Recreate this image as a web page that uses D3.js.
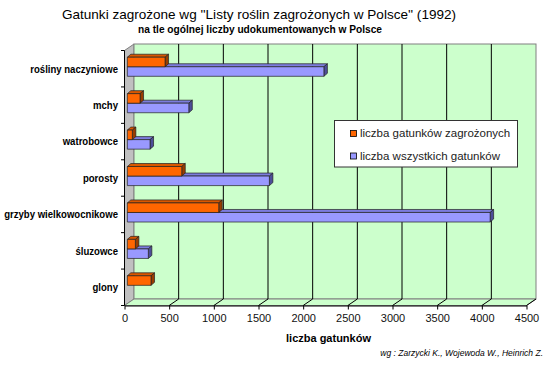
<!DOCTYPE html>
<html><head><meta charset="utf-8">
<script src="https://cdn.jsdelivr.net/npm/d3@7/dist/d3.min.js"></script>
<style>
body{margin:0;background:#fff;}
svg{display:block;font-family:"Liberation Sans",Arial,sans-serif;}
</style></head><body>
<svg id="c" width="550" height="370"></svg>
<script>
const categories = ["rośliny naczyniowe","mchy","watrobowce","porosty","grzyby wielkowocnikowe","śluzowce","glony"];
const threatened = [422,142,56,609,1023,90,265];
const total = [2200,688,254,1590,4061,235,null];
const xTicks = [0,500,1000,1500,2000,2500,3000,3500,4000,4500];
const seriesNames = ["liczba gatunków zagrożonych","liczba wszystkich gatunków"];
const titleText = "Gatunki zagrożone wg ''Listy roślin zagrożonych w Polsce'' (1992)";
const subtitleText = "na tle ogólnej liczby udokumentowanych w Polsce";
const xTitle = "liczba gatunków";
const sourceText = "wg : Zarzycki K., Wojewoda W., Heinrich Z.";

const svg = d3.select("#c");
const DX = 9.5, DY = -6.5;
const x = d3.scaleLinear().domain([0,4500]).range([124.5,526.5]);
const y = d3.scaleBand().domain(categories).range([50.5,305.5]);
const top0 = 50.5, bot0 = 305.5;

const col = {
  o:{front:"#FF6600", top:"#D95700", side:"#993D00"},
  p:{front:"#9999FF", top:"#7C7CDD", side:"#4D4D99"}
};

function fit(sel, w){ sel.each(function(){ this.setAttribute("textLength", w); this.setAttribute("lengthAdjust","spacingAndGlyphs"); }); }
function squeeze(sel, f){ sel.each(function(){ const l=this.getComputedTextLength(); this.setAttribute("textLength", l*f); this.setAttribute("lengthAdjust","spacingAndGlyphs"); }); }

// title
svg.append("text").attr("x",259).attr("y",19).attr("text-anchor","middle")
  .attr("font-size",13.5).attr("fill","#000").text(titleText).call(fit,394);
svg.append("text").attr("x",260).attr("y",33).attr("text-anchor","middle")
  .attr("font-size",10).attr("font-weight","bold").attr("fill","#000").text(subtitleText).call(fit,244);

// walls
const g = svg.append("g");
g.append("polygon").attr("points",[[x(0),top0],[x(0)+DX,top0+DY],[x(0)+DX,bot0+DY],[x(0),bot0]].join(" "))
  .attr("fill","#C0C0C0").attr("stroke","#808080").attr("stroke-width",1);
g.append("rect").attr("x",x(0)+DX).attr("y",top0+DY).attr("width",x(4500)-x(0)).attr("height",bot0-top0)
  .attr("fill","#CCFFCC").attr("stroke","#808080").attr("stroke-width",1);
g.append("polygon").attr("points",[[x(0),bot0],[x(0)+DX,bot0+DY],[x(4500)+DX,bot0+DY],[x(4500),bot0]].join(" "))
  .attr("fill","#CCFFCC").attr("stroke","#808080").attr("stroke-width",1);

// gridlines
xTicks.filter(v=>v>0 && v<4500).forEach(v=>{
  g.append("line").attr("x1",x(v)+DX).attr("x2",x(v)+DX).attr("y1",top0+DY).attr("y2",bot0+DY)
    .attr("stroke","#000").attr("stroke-width",1);
});
xTicks.filter(v=>v>0).forEach(v=>{
  g.append("line").attr("x1",x(v)).attr("x2",x(v)+DX).attr("y1",bot0).attr("y2",bot0+DY)
    .attr("stroke","#000").attr("stroke-width",1);
});

// axes
const xAxis = svg.append("g").attr("transform",`translate(0,${bot0})`)
  .call(d3.axisBottom(x).tickValues(xTicks).tickFormat(d3.format("d")).tickSize(4).tickPadding(5).tickSizeOuter(0));
xAxis.select(".domain").attr("stroke","#000");
xAxis.selectAll(".tick line").attr("stroke","#000");
xAxis.selectAll("text").attr("font-size",11).attr("fill","#111").attr("font-family","Liberation Sans,Arial,sans-serif");

const bounds = categories.map(c=>y(c)).concat([bot0]);
svg.append("line").attr("x1",x(0)).attr("x2",x(0)).attr("y1",top0).attr("y2",bot0).attr("stroke","#000");
bounds.forEach(b=>svg.append("line").attr("x1",x(0)-3.5).attr("x2",x(0)).attr("y1",b).attr("y2",b).attr("stroke","#000"));

svg.append("g").selectAll("text").data(categories).join("text")
  .attr("x",118).attr("y",d=>y(d)+y.bandwidth()/2+3.8).attr("text-anchor","end")
  .attr("font-size",11).attr("font-weight","bold").attr("fill","#000").text(d=>d)
  .call(squeeze,0.87);

// bars
const barH = y.bandwidth()*0.262;
const sx = DX*0.3, sy = DY*0.3, bdx = 3.5, bdy = -3;
function bar(parent, v, y0, c){
  if(v==null) return;
  const x0 = x(0)+sx, x1 = x(v)+sx, h = barH;
  const gg = parent.append("g");
  gg.append("polygon").attr("points",[[x0,y0],[x0+bdx,y0+bdy],[x1+bdx,y0+bdy],[x1,y0]].join(" ")).attr("fill",c.top);
  gg.append("polygon").attr("points",[[x1,y0],[x1+bdx,y0+bdy],[x1+bdx,y0+h+bdy],[x1,y0+h]].join(" ")).attr("fill",c.side);
  gg.append("rect").attr("x",x0).attr("y",y0).attr("width",x1-x0).attr("height",h).attr("fill",c.front);
  gg.selectAll("*").attr("stroke","#222").attr("stroke-width",0.7).attr("stroke-linejoin","round");
}
const bars = svg.append("g");
categories.forEach((c,i)=>{
  const cy = y(c)+y.bandwidth()/2;
  bar(bars, total[i], cy+sy, col.p);
  bar(bars, threatened[i], cy-barH+sy, col.o);
});

// legend
const lg = svg.append("g");
lg.append("rect").attr("x",334.5).attr("y",120.5).attr("width",183).attr("height",46.5)
  .attr("fill","#fff").attr("stroke","#333").attr("stroke-width",1);
[col.o.front,col.p.front].forEach((f,i)=>{
  lg.append("rect").attr("x",350.5).attr("y",130.5+i*22.5).attr("width",6).attr("height",6)
    .attr("fill",f).attr("stroke","#000").attr("stroke-width",0.8);
  lg.append("text").attr("x",360).attr("y",137+i*22.5).attr("font-size",11.5).attr("fill","#222").text(seriesNames[i]);
});

svg.append("text").attr("x",328.5).attr("y",342).attr("text-anchor","middle")
  .attr("font-size",11).attr("font-weight","bold").attr("fill","#000").text(xTitle);
svg.append("text").attr("x",543).attr("y",356).attr("text-anchor","end")
  .attr("font-size",8.5).attr("font-style","italic").attr("fill","#000").text(sourceText);
</script>
</body></html>
